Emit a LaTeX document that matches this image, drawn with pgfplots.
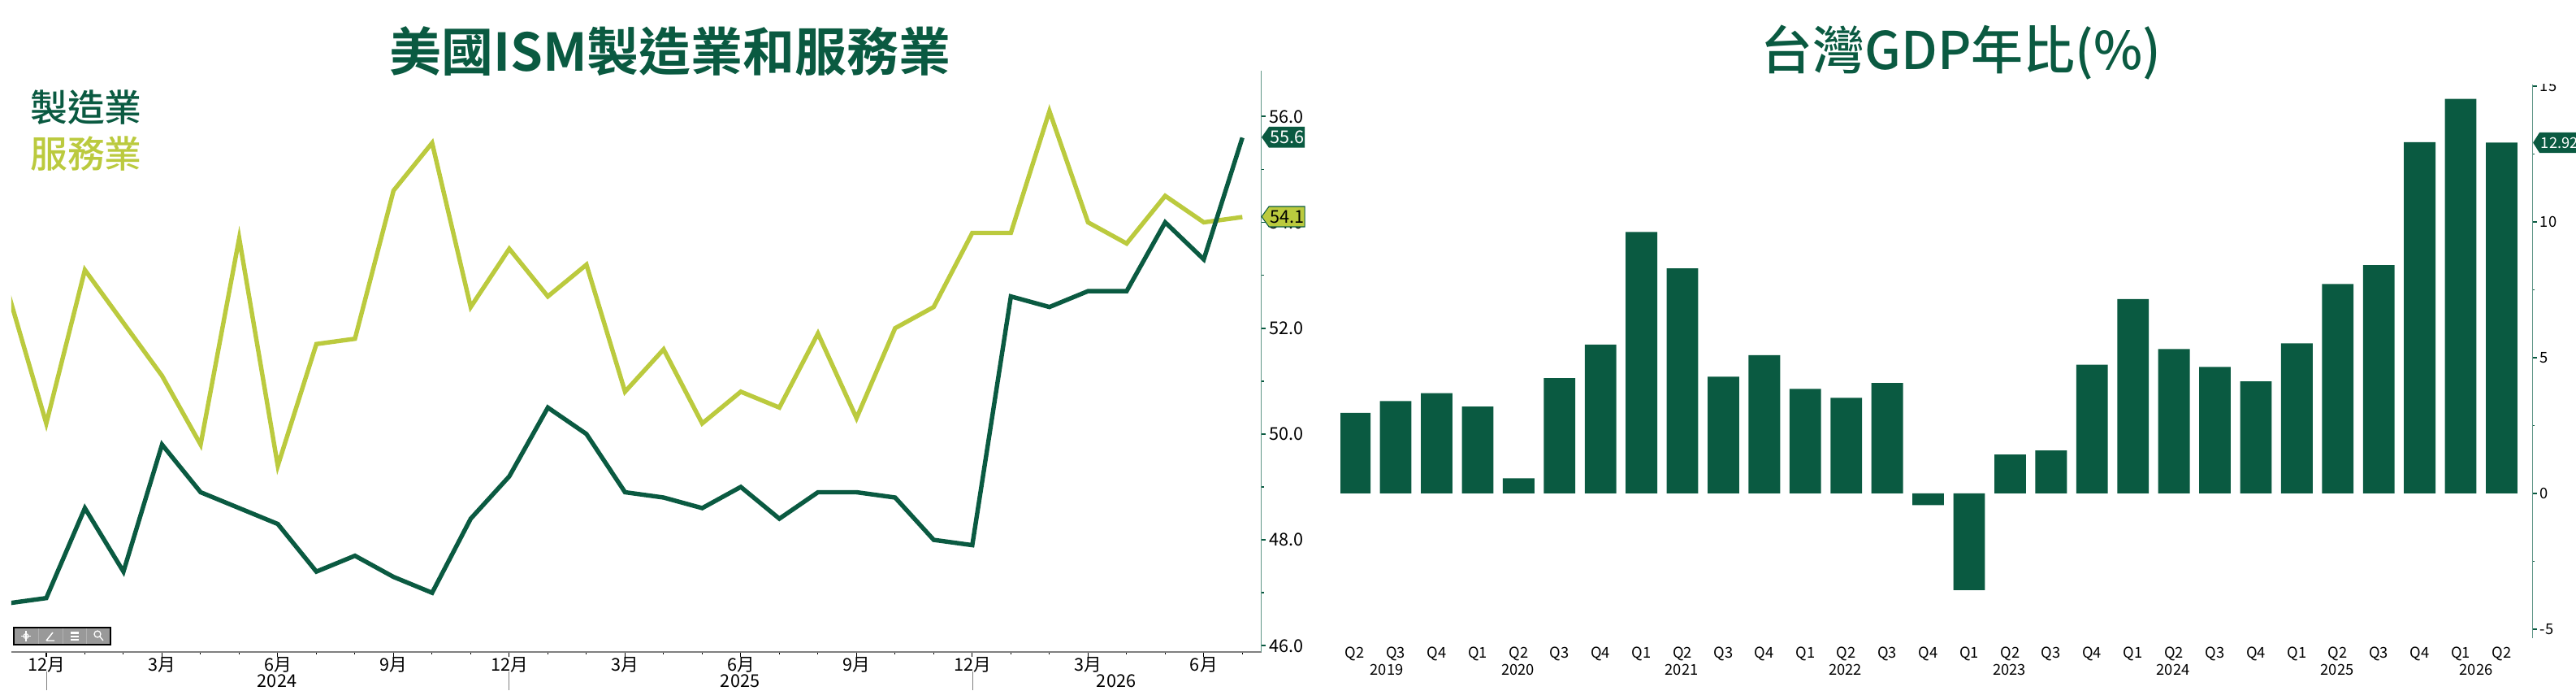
\documentclass[border=0pt]{standalone}
\usepackage{fontspec}
\usepackage{pgfplots}
\usepackage{pgfplotstable}
\pgfplotsset{compat=1.18}
\setmainfont{Noto Sans CJK TC}
\newfontfamily\medfont{Noto Sans CJK TC Medium}
\newfontfamily\boldcjk{Noto Sans CJK TC Bold}
\definecolor{dkgreen}{RGB}{10,90,65}
\definecolor{lime}{RGB}{187,202,62}
\definecolor{axteal}{RGB}{95,150,135}

% month 0 = Dec 2023
\pgfplotstableread{
m   mfg   svc
-1  46.8  52.7
0   46.9  50.2
1   48.6  53.1
2   47.4  52.1
3   49.8  51.1
4   48.9  49.8
5   48.6  53.7
6   48.3  49.4
7   47.4  51.7
8   47.7  51.8
9   47.3  54.6
10  47.0  55.5
11  48.4  52.4
12  49.2  53.5
13  50.5  52.6
14  50.0  53.2
15  48.9  50.8
16  48.8  51.6
17  48.6  50.2
18  49.0  50.8
19  48.4  50.5
20  48.9  51.9
21  48.9  50.3
22  48.8  52.0
23  48.0  52.4
24  47.9  53.8
25  52.6  53.8
26  52.4  56.1
27  52.7  54.0
28  52.7  53.6
29  54.0  54.5
30  53.3  54.0
31  55.6  54.1
}\ismdata

\pgfplotstableread{
q   gdp
0   2.97
1   3.40
2   3.69
3   3.20
4   0.56
5   4.25
6   5.48
7   9.63
8   8.29
9   4.30
10  5.09
11  3.85
12  3.52
13  4.07
14  -0.43
15  -3.56
16  1.43
17  1.58
18  4.74
19  7.16
20  5.32
21  4.66
22  4.13
23  5.53
24  7.71
25  8.41
26  12.94
27  14.53
28  12.92
}\gdpdata

\begin{document}
\begin{tikzpicture}
\path[use as bounding box] (0,0) rectangle (761.04pt,203.76pt);

\begin{axis}[
    at={(3.36pt,11.35pt)}, anchor=south west,
    scale only axis, width=369.26pt, height=171.53pt,
    xmin=-0.905, xmax=31.49, ymin=45.886, ymax=56.865,
    axis x line*=bottom, axis y line*=right,
    title={\boldcjk 美國ISM製造業和服務業},
    title style={at={(axis description cs:0.527,0.999)},anchor=center,inner sep=0pt,
        font=\fontsize{15.36}{16}\selectfont,text=dkgreen},
    xtick={0,3,...,30},
    xticklabels={12月,3月,6月,9月,12月,3月,6月,9月,12月,3月,6月},
    minor xtick={1,2,4,5,7,8,10,11,13,14,16,17,19,20,22,23,25,26,28,29,31},
    ytick={46,48,...,56},
    minor ytick={47,49,...,55},
    tick align=outside,
    major tick length=1.4pt, minor tick length=0.7pt,
    x axis line style={draw=gray,line width=0.4pt},
    y axis line style={draw=axteal,line width=0.3pt},
    x tick style={draw=black,line width=0.25pt},
    minor x tick style={draw=black,line width=0.25pt},
    y tick style={draw=dkgreen,line width=0.4pt},
    tick label style={font=\fontsize{5.2}{5.5}\selectfont,inner sep=0pt},
    xticklabel style={yshift=0.1pt},
    yticklabel style={xshift=0.8pt},
    yticklabel style={/pgf/number format/.cd,fixed,fixed zerofill,precision=1,assume math mode=true},
]
\addplot[lime,line width=1.3pt,no marks] table[x=m,y=svc] {\ismdata};
\addplot[dkgreen,line width=1.3pt,no marks] table[x=m,y=mfg] {\ismdata};
\end{axis}

\begin{axis}[
    at={(396pt,15.36pt)}, anchor=south west,
    scale only axis, width=352.27pt, height=163.44pt,
    xmin=-0.35, xmax=28.76, ymin=-5.33, ymax=15.06,
    axis x line*=bottom, axis y line*=right,
    ybar, bar width=0.77,
    title={\medfont 台灣GDP年比(\%)},
    title style={at={(axis description cs:0.5205,1.0205)},anchor=center,inner sep=0pt,
        font=\fontsize{15.36}{16}\selectfont,text=dkgreen},
    xtick={0,...,28},
    xticklabels={Q2,Q3,Q4,Q1,Q2,Q3,Q4,Q1,Q2,Q3,Q4,Q1,Q2,Q3,Q4,Q1,Q2,Q3,Q4,Q1,Q2,Q3,Q4,Q1,Q2,Q3,Q4,Q1,Q2},
    ytick={-5,0,5,10,15},
    minor ytick={-2.5,2.5,7.5,12.5},
    tick align=outside,
    major tick length=1.2pt, minor tick length=0.6pt,
    x axis line style={draw=none},
    y axis line style={draw=axteal,line width=0.3pt},
    x tick style={draw=none},
    y tick style={draw=dkgreen,line width=0.4pt},
    tick label style={font=\fontsize{4.4}{5}\selectfont,inner sep=0pt},
    xticklabel style={yshift=-1.2pt},
    yticklabel style={xshift=0.8pt,/pgf/number format/assume math mode=true},
]
\addplot[fill=dkgreen,draw=none] table[x=q,y=gdp] {\gdpdata};
\end{axis}

% everything below is in reference pixels
\begin{scope}[x=0.24pt,y=-0.24pt,shift={(0pt,203.76pt)}]
  % legend text
  \node[text=dkgreen,inner sep=0pt,font=\fontsize{11}{12}\selectfont\medfont] at (106,132) {製造業};
  \node[text=lime,inner sep=0pt,font=\fontsize{11}{12}\selectfont\medfont] at (106,189) {服務業};
  % year separators and year labels, left
  \foreach \xx in {57,626.5,1197}
    \draw[gray,line width=0.2pt] (\xx,826) -- (\xx,849);
  \foreach \xx/\yy in {341/2024,911/2025,1374/2026}
    \node[inner sep=0pt,font=\fontsize{5.2}{5.5}\selectfont] at (\xx,838) {\yy};
  % year labels, right
  \foreach \xx/\yy in {1707/2019,1868.6/2020,2070/2021,2271.6/2022,2473.7/2023,2675/2024,2877/2025,3048/2026}
    \node[inner sep=0pt,font=\fontsize{4.4}{5}\selectfont] at (\xx,824) {\yy};
  % value flags
  \fill[dkgreen] (1553,168.8) -- (1562,156) -- (1606,156) -- (1606,181.7) -- (1562,181.7) -- cycle;
  \node[text=white,anchor=west,inner sep=0pt,font=\fontsize{5.2}{5.5}\selectfont] at (1563,168.8) {55.6};
  \filldraw[fill=lime,draw=dkgreen,line width=0.25pt] (1553,266.5) -- (1562,254) -- (1606,254) -- (1606,279) -- (1562,279) -- cycle;
  \node[text=black,anchor=west,inner sep=0pt,font=\fontsize{5.2}{5.5}\selectfont] at (1563,266.5) {54.1};
  \fill[dkgreen] (3118,175.5) -- (3126,163) -- (3171,163) -- (3171,188) -- (3126,188) -- cycle;
  \node[text=white,anchor=west,inner sep=0pt,font=\fontsize{4.4}{5}\selectfont] at (3127,175.5) {12.92};
  % the 15 is cut off at the top of the frame
  \fill[white] (3124,94) rectangle (3170,103);
  % chart toolbar
  \fill[gray!80] (17,772) rectangle (136,793);
  \draw[black,line width=0.25pt] (17,772) rectangle (136,793);
  \foreach \xx in {47,77,106}
    \draw[gray!60,line width=0.2pt] (\xx,773) -- (\xx,792);
  \draw[white,line width=0.25pt] (32,776) -- (32,789) (26,782.5) -- (38,782.5);
  \draw[white,line width=0.25pt] (32,782.5) circle (3);
  \draw[white,line width=0.35pt] (57,788) -- (65,778) (57,788) -- (67,788);
  \fill[white] (87,777) rectangle (97,780);
  \fill[white] (87,782) rectangle (97,784);
  \fill[white] (87,786) rectangle (97,788);
  \draw[white,line width=0.3pt] (120,780) circle (4) (123,783) -- (127,788);
\end{scope}
\end{tikzpicture}
\end{document}
